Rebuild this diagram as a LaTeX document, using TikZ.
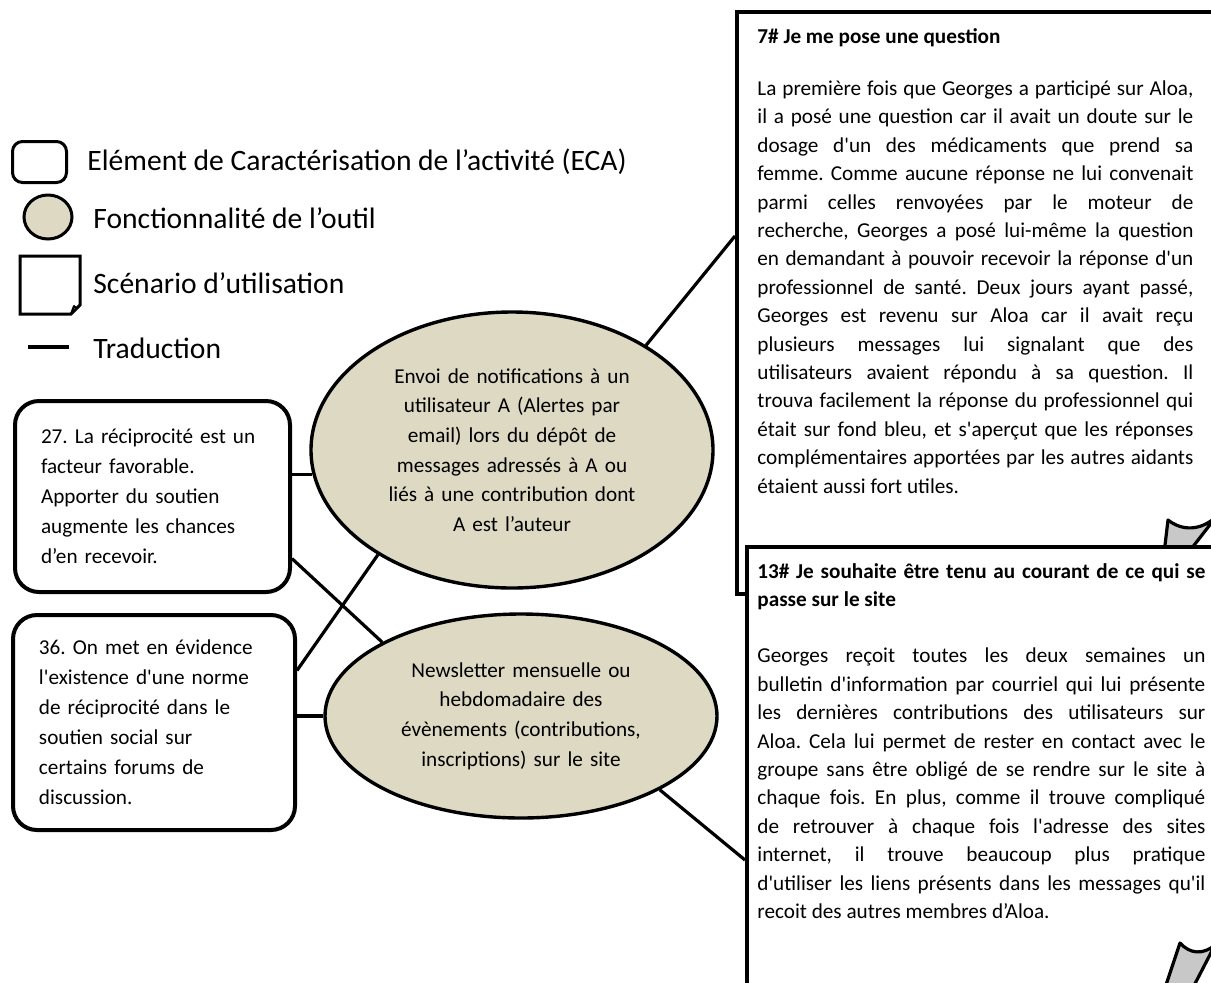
\documentclass[tikz,border=0pt]{standalone}
\usepackage{fontspec}
\setmainfont{Carlito}
\newfontfamily\calib{Carlito}
\usetikzlibrary{shapes.geometric}
\definecolor{beige}{HTML}{DDD9C3}
\definecolor{curlgrey}{HTML}{C8C8C8}
\frenchspacing
\tolerance=10000
\hyphenpenalty=10000

\tikzset{
  eca/.style={draw, line width=2pt, rounded corners=12pt, fill=white, align=left,
    inner xsep=13pt, anchor=north west, font=\calib\fontsize{10.6}{15}\selectfont},
  fonct/.style={draw, ellipse, line width=1.7pt, fill=beige, align=center,
    inner sep=0pt, font=\calib\fontsize{10.6}{14.8}\selectfont},
  scen/.style={draw, line width=2pt, fill=white, anchor=north west, inner sep=0pt},
  scentext/.style={anchor=base west, text width=218pt, align=justify, inner sep=0pt,
    font=\calib\fontsize{10.6}{14.2}\selectfont},
  legtext/.style={anchor=base west, inner sep=0pt, font=\calib\fontsize{14.8}{17}\selectfont},
  link/.style={line width=1.6pt},
  flap/.style={draw, line width=1.6pt, fill=curlgrey, line join=round}
}

\begin{document}
\begin{tikzpicture}[x=0.5pt, y=-0.5pt]
	\useasboundingbox (0,0) rectangle (1211,982);
	\clip (0,0) rectangle (1211,982);

	% legend
	\node [draw, line width=1.5pt, rounded corners=5pt, minimum width=27pt, minimum height=20.5pt,
		anchor=north west, inner sep=0pt] (legeca) at (11,140) {};
	\node [fonct, line width=1.5pt, minimum width=24pt, minimum height=22pt] (legfn) at (48,217) {};
	\draw [line width=1.5pt, fill=white] (20,256) -- (80,256) -- (80,305) -- (71,314) -- (20,314) -- cycle;
	\filldraw [flap, line width=1pt] (71,314) -- (74,306) .. controls (76,309) and (78,308) .. (80,305) -- cycle;
	\draw [link] (28,347) -- (69,347);

	\node [legtext] (legecatxt) at (87,170) {Elément de Caractérisation de l’activité (ECA)};
	\node [legtext] (legfntxt) at (93,228) {Fonctionnalité de l’outil};
	\node [legtext] (legsctxt) at (93,293) {Scénario d’utilisation};
	\node [legtext] (legtrtxt) at (93,358) {Traduction};

	% scenarios
	\node [scen, minimum width=252.5pt, minimum height=291pt] (sc1) at (735,10) {};
	\filldraw [flap] (1168,520) -- (1163,562) -- (1181,562) -- (1216,517)
		.. controls (1200,531) and (1182,531) .. (1168,520) -- cycle;
	\node [scen, minimum width=247.5pt, minimum height=242.5pt] (sc2) at (745,545) {};
	\filldraw [flap] (1180,943) -- (1160,1003) -- (1185,1003) -- (1215,945)
		.. controls (1203,955) and (1190,954) .. (1180,943) -- cycle;

	\node [scentext] (sc1txt) at (757,43) {\textbf{7\# Je me pose une question}\par\vspace{12pt}
		La première fois que Georges a participé sur Aloa,\linebreak
		il a posé une question car il avait un doute sur le\linebreak
		dosage d'un des médicaments que prend sa\linebreak
		femme. Comme aucune réponse ne lui convenait\linebreak
		parmi celles renvoyées par le moteur de\linebreak
		recherche, Georges a posé lui-même la question\linebreak
		en demandant à pouvoir recevoir la réponse d'un\linebreak
		professionnel de santé. Deux jours ayant passé,\linebreak
		Georges est revenu sur Aloa car il avait reçu\linebreak
		plusieurs messages lui signalant que des\linebreak
		utilisateurs avaient répondu à sa question. Il\linebreak
		trouva facilement la réponse du professionnel qui\linebreak
		était sur fond bleu, et s'aperçut que les réponses\linebreak
		complémentaires apportées par les autres aidants\linebreak
		étaient aussi fort utiles.};

	\node [scentext, text width=224pt] (sc2txt) at (757,578) {\textbf{13\# Je souhaite être tenu au courant de ce qui se\linebreak
		passe sur le site}\par\vspace{14pt}
		Georges reçoit toutes les deux semaines un\linebreak
		bulletin d'information par courriel qui lui présente\linebreak
		les dernières contributions des utilisateurs sur\linebreak
		Aloa. Cela lui permet de rester en contact avec le\linebreak
		groupe sans être obligé de se rendre sur le site à\linebreak
		chaque fois. En plus, comme il trouve compliqué\linebreak
		de retrouver à chaque fois l'adresse des sites\linebreak
		internet, il trouve beaucoup plus pratique\linebreak
		d'utiliser les liens présents dans les messages qu'il\linebreak
		recoit des autres membres d’Aloa.};

	% activity elements
	\node [eca, text width=111.5pt, minimum height=95.5pt] (eca27) at (13,399)
		{27. La réciprocité est un\\ facteur favorable.\\ Apporter du soutien\\ augmente les chances\\ d’en recevoir.};
	\node [eca, text width=115pt, minimum height=107.5pt] (eca36) at (11,613)
		{36. On met en évidence\\ l'existence d'une norme\\ de réciprocité dans le\\ soutien social sur\\ certains forums de\\ discussion.};

	% tool functions
	\node [fonct, minimum width=201pt, minimum height=138pt, text width=125pt] (fn1) at (512,450)
		{Envoi de notifications à un\\ utilisateur A (Alertes par\\ email) lors du dépôt de\\ messages adressés à A ou\\ liés à une contribution dont\\ A est l’auteur};
	\node [fonct, minimum width=196pt, minimum height=102pt, text width=125pt] (fn2) at (521,716)
		{Newsletter mensuelle ou\\ hebdomadaire des\\ évènements (contributions,\\ inscriptions) sur le site};

	% translations
	\coordinate (sc1in) at (735,236);
	\coordinate (sc2in) at (745,860);
	\draw [link] (eca27.east |- fn1.187) -- (fn1.187);
	\draw [link] (eca27.-24) -- (fn2.152);
	\draw [link] (eca36.20) -- (fn1.218);
	\draw [link] (eca36.east |- fn2.west) -- (fn2.west);
	\draw [link] (fn1.38) -- (sc1in);
	\draw [link] (fn2.-28) -- (sc2in);
\end{tikzpicture}
\end{document}
